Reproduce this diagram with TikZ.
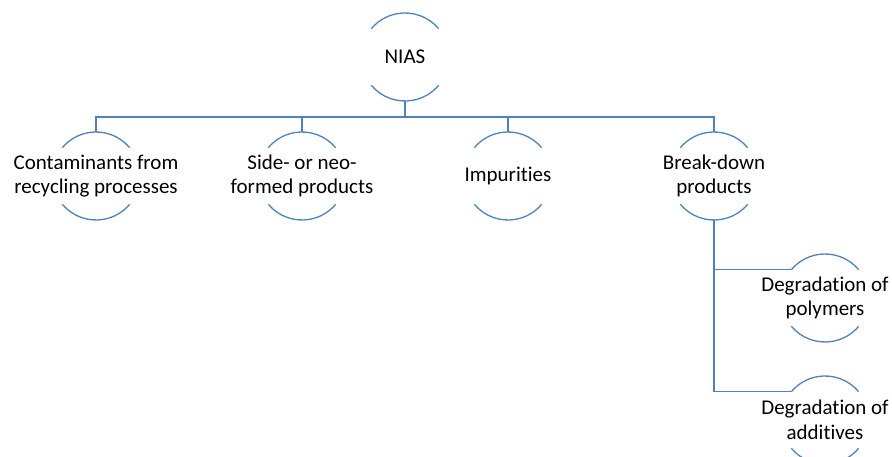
\documentclass[tikz,border=0pt]{standalone}
\usepackage{fontspec}
\setmainfont[Ligatures={NoCommon,NoRare}]{Carlito}
\usepackage{tikz}
\usetikzlibrary{calc}
\definecolor{smartblue}{RGB}{79,129,189}

\begin{document}
\begin{tikzpicture}[x=1pt,y=1pt,thick]
    % `ring' is the (empty) circle holding a label in its middle.
    % `link' is used for the arcs and the connecting lines.
    \tikzstyle{ring} = [circle,minimum size=88pt,inner sep=0pt,outer sep=0pt]
    \tikzstyle{link} = [draw=smartblue,line width=1.3pt]
    \tikzset{every label/.style={align=center,inner sep=0pt,
        font=\fontsize{21}{24.5}\selectfont}}
    %
    \useasboundingbox (0,0) rectangle (892,457);
    \node[ring,label=center:NIAS] (nias) at (405,400) {};
    \node[ring,label={center:Contaminants from\\recycling processes}] (cont) at (96,281) {};
    \node[ring,label={center:Side- or neo-\\formed products}] (side) at (302,281) {};
    \node[ring,label=center:Impurities] (impu) at (508,281) {};
    \node[ring,label={center:Break-down\\products}] (brk) at (714,281) {};
    \node[ring,label={center:Degradation of\\polymers}] (poly) at (825,159) {};
    \node[ring,label={center:Degradation of\\additives}] (addi) at (825,37) {};
    \coordinate (bus) at ($(nias.south)+(0,-16)$);
    %
    % Draw arcs.
    \foreach \n in {nias,cont,side,impu,brk,poly,addi}
        \draw[link] (\n.40) arc (40:140:44pt) (\n.220) arc (220:320:44pt);
    % Draw lines.
    \draw[link] (nias.south) -- (bus);
    \foreach \n in {cont,side,impu,brk}
        \draw[link] (bus) -| (\n.north);
    \draw[link] (brk.south) |- (poly.140);
    \draw[link] (brk.south) |- (addi.140);
\end{tikzpicture}
\end{document}
